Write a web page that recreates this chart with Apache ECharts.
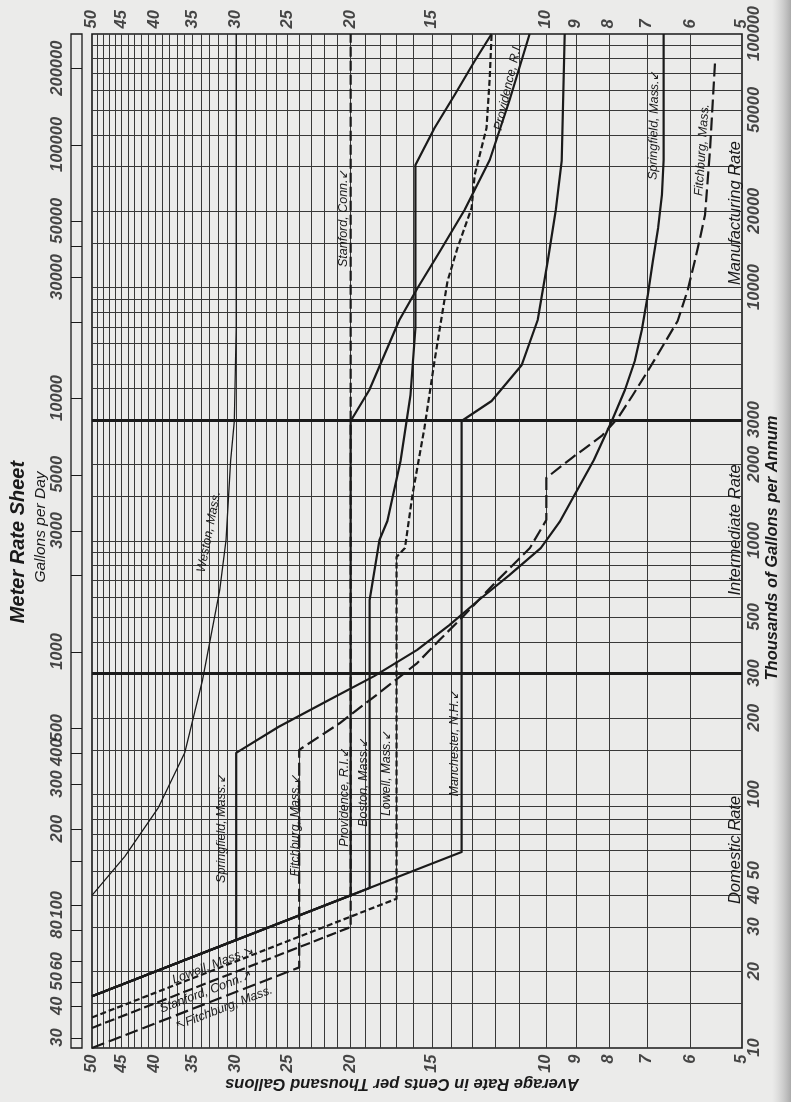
<!DOCTYPE html>
<html>
<head>
<meta charset="utf-8">
<script src="https://cdn.jsdelivr.net/npm/echarts@6/dist/echarts.min.js"></script>
<style>
  html, body { margin: 0; padding: 0; background: #ebebea; }
  #chart { width: 791px; height: 1102px; }
</style>
</head>
<body>
<div id="chart"></div>
<script>
// Meter rate sheet: average rate (cents per 1000 gal) against yearly consumption
// (thousands of gallons per annum), both on logarithmic scales.

// ---- scales and tick labels ----
const VOL_MIN = 10, VOL_MAX = 100000;      // thousands of gallons per annum
const RATE_MIN = 5, RATE_MAX = 50;         // cents per thousand gallons
const rateLabels = [50, 45, 40, 35, 30, 25, 20, 15, 10, 9, 8, 7, 6, 5];
const volumeLabels = [10, 20, 30, 40, 50, 100, 200, 300, 500, 1000, 2000, 3000, 10000, 20000, 50000, 100000];
const dailyLabels = [30, 40, 50, 60, 80, 100, 200, 300, 400, 500, 1000, 3000, 5000, 10000, 30000, 50000, 100000, 200000];
const dailyTicks = [30, 40, 50, 60, 80, 100, 150, 200, 300, 400, 500, 1000, 2000, 3000, 5000, 10000, 20000, 30000, 40000, 50000, 100000, 200000];
const rateGrid = [6, 7, 8, 9, 10, 11, 12, 13, 14, 15, 16, 17, 18, 19, 20, 21, 22, 23, 24, 25, 26, 27, 28, 29,
                  30, 31, 32, 33, 34, 35, 36, 37, 38, 39, 40, 41, 42, 43, 44, 45, 46, 47, 48, 49];
const volumeGrid = [15, 20, 30, 40, 50, 60, 70, 80, 90, 100, 150, 200, 300, 400, 500, 600, 700, 800, 900,
                    1000, 1500, 2000, 3000, 4000, 5000, 6000, 7000, 8000, 9000, 10000, 15000, 20000,
                    30000, 40000, 50000, 60000, 70000, 80000, 90000];
const classBounds = [300, 3000];           // domestic | intermediate | manufacturing

// ---- rate schedules: [thousand gallons per annum, cents per thousand gallons] ----
const westonMass = [[40, 50], [57, 44.5], [89, 39.5], [146, 36], [283, 33.8], [641, 31.8], [1009, 31.1],
                    [2068, 30.6], [2974, 30.2], [6922, 30], [100000, 30]];
const springfieldMass = [[16, 50], [26.7, 30], [146, 30], [185, 25.8], [236, 21.6], [293, 18.4], [372, 15.8],
                         [466, 14.1], [585, 12.7], [734, 11.4], [938, 10.2], [1189, 9.54], [1519, 9.05],
                         [2087, 8.45], [2974, 7.93], [3942, 7.57], [5129, 7.31], [6797, 7.13], [9341, 6.98],
                         [12610, 6.86], [17170, 6.73], [23170, 6.64], [31840, 6.6], [100000, 6.6]];
const fitchburgMass = [[10, 50], [20.8, 24], [150, 24], [191, 20.8], [251, 18.1], [330, 15.8], [407, 14.6],
                       [497, 13.5], [683, 12], [938, 10.6], [1210, 10], [1773, 10], [2125, 9.14], [2596, 8.22],
                       [3056, 7.76], [3766, 7.36], [4684, 6.98], [5877, 6.62], [7378, 6.28], [9774, 6.06],
                       [12720, 5.91], [15390, 5.81], [19320, 5.7], [34870, 5.6], [78270, 5.5]];
const stanfordConn = [[12, 50], [30, 20], [100000, 20]];
const providenceRI = [[16, 50], [40, 20], [2974, 20], [3942, 18.72], [5416, 17.75], [7444, 16.83],
                      [9955, 15.78], [13800, 14.6], [20220, 13.36], [31840, 12.22], [54900, 11.39], [100000, 10.61]];
const bostonMass = [[16, 50], [42.8, 18.7], [585, 18.7], [1009, 18.06], [1199, 17.56], [2068, 16.76],
                    [3766, 16.18], [6922, 15.9], [30420, 15.9], [42590, 14.86], [57450, 13.84],
                    [78270, 12.89], [100000, 12.14]];
const lowellMass = [[13.2, 50], [38.8, 17], [865, 17], [938, 16.5], [1519, 16.07], [2792, 15.4], [5129, 14.86],
                    [10610, 14.19], [14320, 13.7], [20590, 13.03], [27780, 12.89], [42590, 12.36],
                    [67050, 12.22], [100000, 12.14]];
const manchesterNH = [[16, 50], [59.3, 13.5], [2974, 13.5], [3567, 12.14], [4948, 10.91], [7444, 10.31],
                      [12720, 9.95], [20220, 9.67], [31560, 9.47], [100000, 9.37]];

// ---- styling ----
const PAPER = '#ebebea';
const INK = '#1a1a1a';
const GRIDINK = '#383838';
const FONT = '"Liberation Sans", "DejaVu Sans", Arial, sans-serif';
const DAILY_MIN = VOL_MIN * 1000 / 365, DAILY_MAX = VOL_MAX * 1000 / 365;

function schedule(name, data, width, dash) {
  return {
    name, type: 'line', data, encode: { x: 1, y: 0 },
    symbol: 'none', showSymbol: false, smooth: false, clip: true, z: 5, silent: true,
    lineStyle: { color: INK, width, type: dash || 'solid', cap: 'butt', join: 'round' }
  };
}

function tickText(data, xIdx, yIdx, encode, labelCfg) {
  return {
    type: 'scatter', data, xAxisIndex: xIdx, yAxisIndex: yIdx, encode,
    symbolSize: 1, itemStyle: { color: 'rgba(0,0,0,0)' }, silent: true, z: 8, clip: false,
    label: Object.assign({
      show: true, color: INK, fontFamily: FONT, fontStyle: 'italic', fontWeight: 'bold', fontSize: 16.5
    }, labelCfg)
  };
}

function rotatedText(text, x, y, deg, font) {
  return {
    type: 'text', x, y, rotation: deg * Math.PI / 180, z: 20, silent: true,
    style: { text, font, fill: INK, align: 'center', verticalAlign: 'middle' }
  };
}

const chart = echarts.init(document.getElementById('chart'), null, { renderer: 'canvas' });

const labelFont = 'italic 12.5px ' + FONT;
const zoneFont = 'italic 16.5px ' + FONT;

chart.setOption({
  animation: false,
  backgroundColor: PAPER,
  grid: [
    { left: 92, top: 34, width: 650, height: 1014, show: true, borderColor: INK, borderWidth: 1.6, backgroundColor: 'transparent' },
    { left: 71, top: 34, width: 11, height: 1014, show: true, borderColor: INK, borderWidth: 1.3, backgroundColor: 'transparent' }
  ],
  xAxis: [
    { gridIndex: 0, type: 'log', logBase: 10, min: RATE_MIN, max: RATE_MAX, inverse: true,
      axisLine: { show: false }, axisTick: { show: false }, axisLabel: { show: false }, splitLine: { show: false } },
    { gridIndex: 1, type: 'value', min: 0, max: 1, show: false }
  ],
  yAxis: [
    { gridIndex: 0, type: 'log', logBase: 10, min: VOL_MIN, max: VOL_MAX,
      axisLine: { show: false }, axisTick: { show: false }, axisLabel: { show: false }, splitLine: { show: false } },
    { gridIndex: 1, type: 'log', logBase: 10, min: DAILY_MIN, max: DAILY_MAX, show: false }
  ],
  series: [
    // ruled grid of the sheet
    {
      type: 'line', data: [], xAxisIndex: 0, yAxisIndex: 0, z: 1, silent: true,
      markLine: {
        silent: true, symbol: ['none', 'none'], label: { show: false }, animation: false,
        lineStyle: { color: GRIDINK, width: 1, type: 'solid' },
        emphasis: { disabled: true },
        data: rateGrid.map(r => ({ xAxis: r })).concat(volumeGrid.map(v => ({ yAxis: v })))
      }
    },
    {
      type: 'line', data: [], xAxisIndex: 0, yAxisIndex: 0, z: 2, silent: true,
      markLine: {
        silent: true, symbol: ['none', 'none'], label: { show: false }, animation: false,
        lineStyle: { color: INK, width: 3, type: 'solid' },
        emphasis: { disabled: true },
        data: classBounds.map(v => ({ yAxis: v }))
      }
    },
    // gallons-per-day ticks in the side strip
    {
      type: 'line', data: [], xAxisIndex: 1, yAxisIndex: 1, z: 2, silent: true,
      markLine: {
        silent: true, symbol: ['none', 'none'], label: { show: false }, animation: false,
        lineStyle: { color: INK, width: 1, type: 'solid' },
        emphasis: { disabled: true },
        data: dailyTicks.map(g => ({ yAxis: g }))
      }
    },
    // rate schedules
    schedule('Weston, Mass.', westonMass, 1.3),
    schedule('Springfield, Mass.', springfieldMass, 2.2),
    schedule('Providence, R.I.', providenceRI, 2.2),
    schedule('Boston, Mass.', bostonMass, 2.2),
    schedule('Manchester, N.H.', manchesterNH, 2.2),
    schedule('Stanford, Conn.', stanfordConn, 2.2, [10, 4]),
    schedule('Lowell, Mass.', lowellMass, 2.2, [6, 3]),
    schedule('Fitchburg, Mass.', fitchburgMass, 2.2, [13, 5]),
    // tick labels
    tickText(rateLabels.map(r => [VOL_MAX, r]), 0, 0, { x: 1, y: 0 },
      { formatter: p => String(p.value[1]), position: [0, -5], rotate: 90, align: 'left', verticalAlign: 'middle' }),
    tickText(rateLabels.map(r => [VOL_MIN, r]), 0, 0, { x: 1, y: 0 },
      { formatter: p => String(p.value[1]), position: [0, 7], rotate: 90, align: 'right', verticalAlign: 'middle' }),
    tickText(volumeLabels.map(v => [v, RATE_MIN]), 0, 0, { x: 1, y: 0 },
      { formatter: p => String(p.value[0]), position: [4, 0], rotate: 90, align: 'center', verticalAlign: 'top' }),
    tickText(dailyLabels.map(g => [0, g]), 1, 1, { x: 0, y: 1 },
      { formatter: p => String(p.value[1]), position: [-5, 0], rotate: 90, align: 'center', verticalAlign: 'bottom' })
  ],
  graphic: [
    { type: 'rect', shape: { x: 772, y: 0, width: 19, height: 1102 }, silent: true, z: 0,
      style: { fill: new echarts.graphic.LinearGradient(0, 0, 1, 0, [
        { offset: 0, color: 'rgba(200,200,200,0)' }, { offset: 1, color: 'rgba(170,170,170,1)' }]) } },
    rotatedText('Meter Rate Sheet', 18, 542, 90, 'italic bold 20px ' + FONT),
    rotatedText('Gallons per Day', 41, 527, 90, 'italic 15.5px ' + FONT),
    rotatedText('Thousands of Gallons per Annum', 772, 548, 90, 'italic bold 16.5px ' + FONT),
    rotatedText('Average Rate in Cents per Thousand Gallons', 402, 1084, 180, 'italic bold 16.5px ' + FONT),
    rotatedText('Manufacturing Rate', 735, 213, 90, zoneFont),
    rotatedText('Intermediate Rate', 735, 530, 90, zoneFont),
    rotatedText('Domestic Rate', 735, 850, 90, zoneFont),
    rotatedText('Weston, Mass.', 209, 532, 79, labelFont),
    rotatedText('Springfield, Mass.↙', 222, 828, 90, labelFont),
    rotatedText('Fitchburg, Mass.↙', 296, 825, 90, labelFont),
    rotatedText('Providence, R.I.↙', 345, 797, 90, labelFont),
    rotatedText('Boston, Mass.↙', 364, 782, 90, labelFont),
    rotatedText('Lowell, Mass.↙', 387, 773, 90, labelFont),
    rotatedText('Manchester, N.H.↙', 455, 743, 90, labelFont),
    rotatedText('Stanford, Conn.↙', 344, 218, 90, labelFont),
    rotatedText('Providence, R.I.', 508, 87, 77, labelFont),
    rotatedText('Springfield, Mass.↙', 654, 125, 89, labelFont),
    rotatedText('Fitchburg, Mass.', 702, 150, 86, labelFont),
    rotatedText('Lowell, Mass.↘', 213, 965, 21, labelFont),
    rotatedText('Stanford, Conn.↗', 206, 992, 21, labelFont),
    rotatedText('↖Fitchburg, Mass.', 224, 1008, 21, labelFont)
  ]
});
</script>
</body>
</html>
